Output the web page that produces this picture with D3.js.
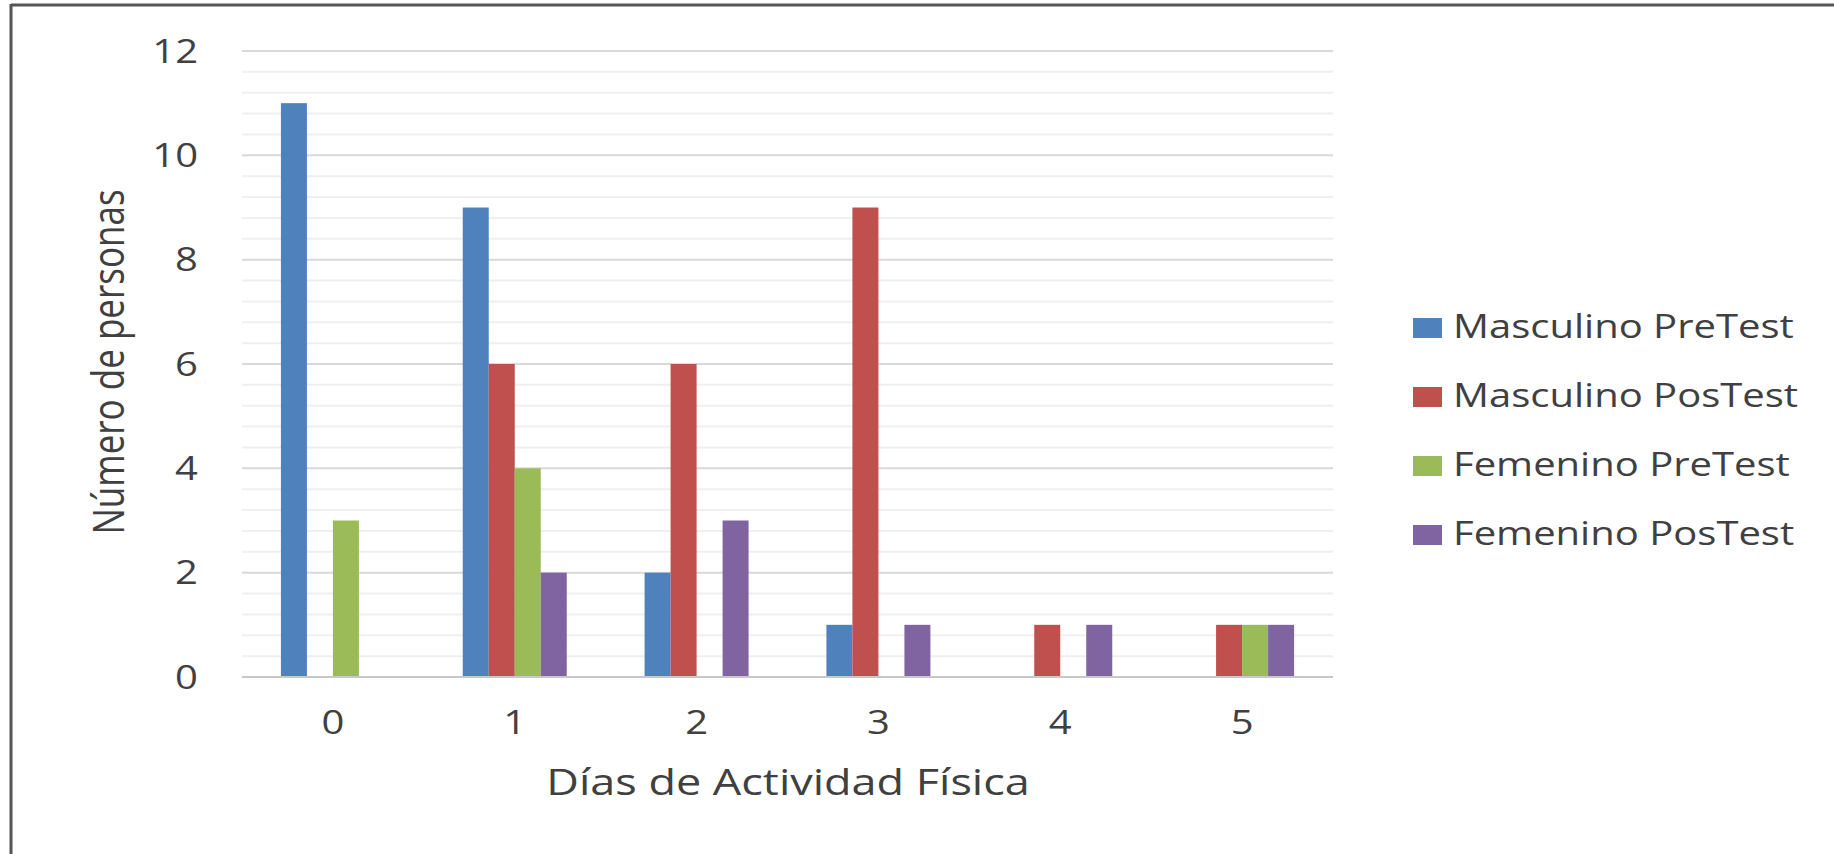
<!DOCTYPE html>
<html>
<head>
<meta charset="utf-8">
<script src="https://cdn.jsdelivr.net/npm/d3@7"></script>
<style>
  html, body { margin: 0; padding: 0; background: #fff; }
  svg { display: block; font-family: "Open Sans", sans-serif; }
</style>
</head>
<body>
<svg id="chart" width="1834" height="854"></svg>
<script>
const categories = ['0', '1', '2', '3', '4', '5']
const seriesNames = ['Masculino PreTest', 'Masculino PosTest', 'Femenino PreTest', 'Femenino PosTest']
const mascPre = [11, 9, 2, 1, 0, 0]
const mascPos = [0, 6, 6, 9, 1, 1]
const femPre = [3, 4, 0, 0, 0, 1]
const femPos = [0, 2, 3, 1, 1, 1]
const yTicks = [0, 2, 4, 6, 8, 10, 12]
const colors = ['#4F81BD', '#C0504D', '#9BBB59', '#8064A2']

const values = [mascPre, mascPos, femPre, femPos]
const textColor = '#404040'
// the original picture is stretched sideways, so the text is too
const sx = 1.25

const svg = d3.select('#chart')

// frame (top and left edges only, like the cropped original)
svg.append('line').attr('x1', 11).attr('x2', 1834).attr('y1', 5).attr('y2', 5)
  .attr('stroke', '#555').attr('stroke-width', 3)
svg.append('line').attr('x1', 11).attr('x2', 11).attr('y1', 4).attr('y2', 854)
  .attr('stroke', '#555').attr('stroke-width', 3)

const plotLeft = 242, plotRight = 1333, plotTop = 51, plotBottom = 677

const x = d3.scaleBand().domain(categories).range([plotLeft, plotRight])
const y = d3.scaleLinear().domain([0, 12]).range([plotBottom, plotTop])

// minor gridlines every 0.4
const minor = d3.range(0, 12.01, 0.4).filter(v => Math.abs(v / 2 - Math.round(v / 2)) > 0.01)
svg.append('g').selectAll('line').data(minor).join('line')
  .attr('x1', plotLeft).attr('x2', plotRight)
  .attr('y1', d => y(d)).attr('y2', d => y(d))
  .attr('stroke', '#efefef').attr('stroke-width', 2)

// major gridlines
svg.append('g').selectAll('line').data(yTicks.filter(d => d > 0)).join('line')
  .attr('x1', plotLeft).attr('x2', plotRight)
  .attr('y1', d => y(d)).attr('y2', d => y(d))
  .attr('stroke', '#d9d9d9').attr('stroke-width', 2)

// bars
const barW = 26
const x1 = d3.scaleBand().domain(seriesNames).range([-2 * barW, 2 * barW])

const bars = []
categories.forEach((c, ci) => {
  seriesNames.forEach((s, si) => {
    const v = values[si][ci]
    if (v > 0) bars.push({ c, s, v, si })
  })
})

svg.append('g').selectAll('rect').data(bars).join('rect')
  .attr('x', d => x(d.c) + x.bandwidth() / 2 + x1(d.s))
  .attr('width', x1.bandwidth())
  .attr('y', d => y(d.v))
  .attr('height', d => y(0) - y(d.v))
  .attr('fill', d => colors[d.si])

// zero axis line
svg.append('line').attr('x1', plotLeft).attr('x2', plotRight)
  .attr('y1', y(0)).attr('y2', y(0))
  .attr('stroke', '#c8c8c8').attr('stroke-width', 2)

// y axis
const yAxis = svg.append('g')
  .attr('transform', `translate(198,0)`)
  .call(d3.axisLeft(y).tickValues(yTicks).tickSize(0).tickPadding(0))
yAxis.select('.domain').remove()
yAxis.selectAll('text')
  .attr('x', 0)
  .attr('dy', '0.35em')
  .attr('transform', `scale(${sx},1)`)
  .attr('fill', textColor)
  .style('font-size', '32px')
  .style('font-family', '"Open Sans", sans-serif')

// x axis
const xAxis = svg.append('g')
  .attr('transform', `translate(0,734)`)
  .call(d3.axisBottom(x).tickSize(0).tickPadding(0))
xAxis.select('.domain').remove()
xAxis.selectAll('text')
  .attr('y', 0)
  .attr('dy', 0)
  .attr('transform', `scale(${sx},1)`)
  .attr('fill', textColor)
  .style('font-size', '32px')
  .style('font-family', '"Open Sans", sans-serif')

// axis titles
svg.append('text')
  .attr('transform', `translate(788,795) scale(${sx},1)`)
  .attr('text-anchor', 'middle')
  .attr('fill', textColor)
  .style('font-size', '36px')
  .text('Días de Actividad Física')

svg.append('text')
  .attr('transform', `translate(124,362) scale(${sx},1) rotate(-90)`)
  .attr('text-anchor', 'middle')
  .attr('fill', textColor)
  .style('font-size', '35px')
  .text('Número de personas')

// legend
const legend = svg.append('g')
  .selectAll('g').data(seriesNames).join('g')
  .attr('transform', (d, i) => `translate(1413,${328 + i * 69})`)

legend.append('rect')
  .attr('x', 0).attr('y', -10)
  .attr('width', 29).attr('height', 20)
  .attr('fill', (d, i) => colors[i])

legend.append('text')
  .attr('transform', `translate(40,10) scale(${sx},1)`)
  .attr('fill', textColor)
  .style('font-size', '32px')
  .text(d => d)
</script>
</body>
</html>
